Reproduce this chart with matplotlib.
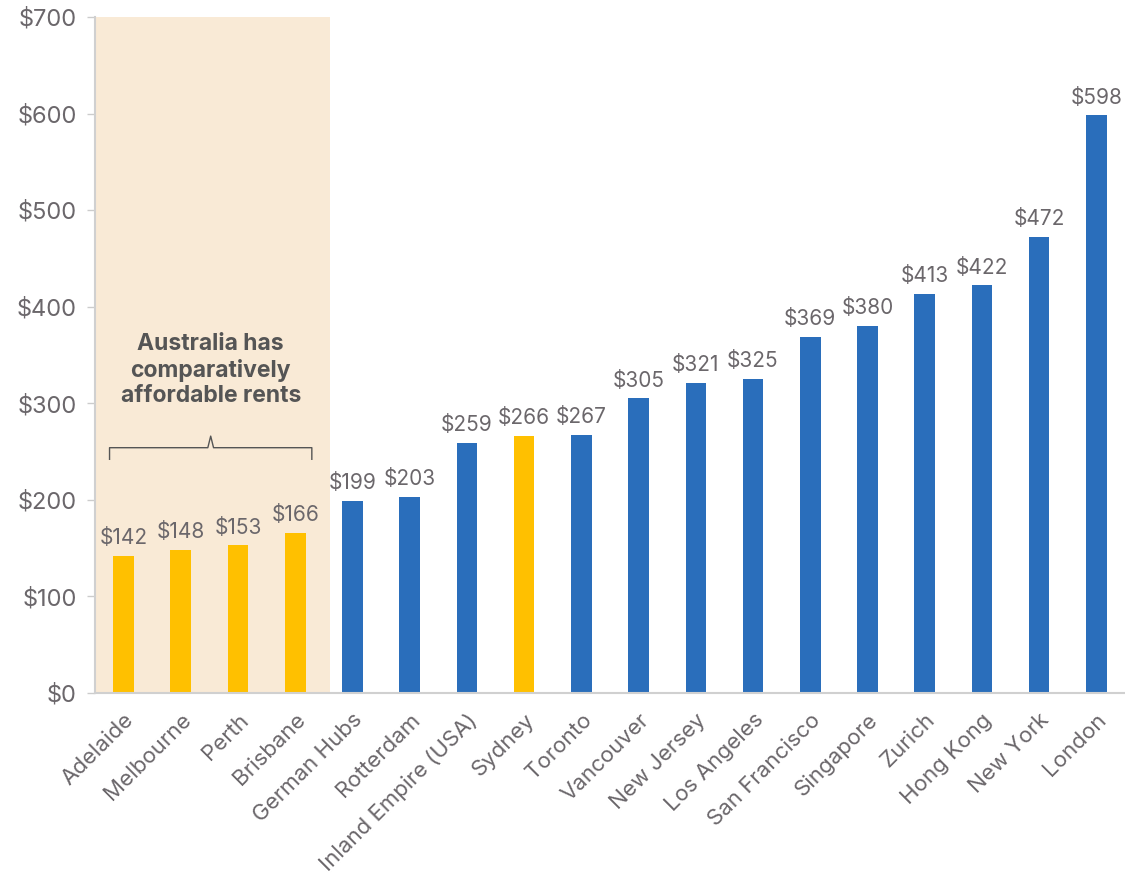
import matplotlib.pyplot as plt

# Средняя арендная плата по городам
cities = ["Adelaide", "Melbourne", "Perth", "Brisbane", "German Hubs", "Rotterdam",
          "Inland Empire (USA)", "Sydney", "Toronto", "Vancouver", "New Jersey",
          "Los Angeles", "San Francisco", "Singapore", "Zurich", "Hong Kong",
          "New York", "London"]
rents = [142, 148, 153, 166, 199, 203, 259, 266, 267, 305, 321, 325, 369, 380,
         413, 422, 472, 598]
australia = ["Adelaide", "Melbourne", "Perth", "Brisbane", "Sydney"]
yticks = [0, 100, 200, 300, 400, 500, 600, 700]

plt.rcParams['font.family'] = ['Inter', 'DejaVu Sans']
grey = '#6b676b'
yellow = '#FFC000'
blue = '#2A6EBB'

fig = plt.figure(figsize=(11.25, 8.75), dpi=100)
ax = fig.add_axes([0.0844, 0.208, 0.9156, 0.7726])

x = list(range(len(cities)))
colors = [yellow if c in australia else blue for c in cities]

# Подсветка австралийских городов
ax.axvspan(-0.5, 3.6, color='#F9EAD6', zorder=0, lw=0)

ax.bar(x, rents, width=0.36, color=colors, zorder=2)
for xi, v in zip(x, rents):
    ax.text(xi, v + 8, f"${v}", ha='center', va='bottom', fontsize=15, color=grey)

# Фигурная скобка над первыми четырьмя столбцами
bx0, bx1, bxm = -0.245, 3.29, (-0.245 + 3.29) / 2
ax.plot([bx0, bx0, bxm - 0.05, bxm, bxm + 0.05, bx1, bx1],
        [242, 254, 254, 266, 254, 254, 242], color='#555555', lw=1, zorder=3)
ax.text(bxm, 296, "Australia has\ncomparatively\naffordable rents", ha='center',
        va='bottom', fontsize=16.5, fontweight='bold', color='#555555', linespacing=1.2)

ax.set_xlim(-0.5, 17.5)
ax.set_ylim(0, 700)
ax.set_yticks(yticks)
ax.set_yticklabels([f"${t}" for t in yticks])
ax.set_xticks(x)
ax.set_xticklabels(cities, rotation=45, ha='right', rotation_mode='anchor')
ax.tick_params(axis='y', colors='#cccccc', labelcolor=grey, labelsize=17, length=6, width=1, pad=7)
ax.tick_params(axis='x', length=0, labelcolor=grey, labelsize=16, pad=12)

for s in ['top', 'right']:
    ax.spines[s].set_visible(False)
ax.spines['left'].set_color('#d0d0d0')
ax.spines['bottom'].set_color('#d0d0d0')
ax.spines['left'].set_linewidth(1.5)
ax.spines['bottom'].set_linewidth(1.5)

fig.savefig("out.png", dpi=100)
